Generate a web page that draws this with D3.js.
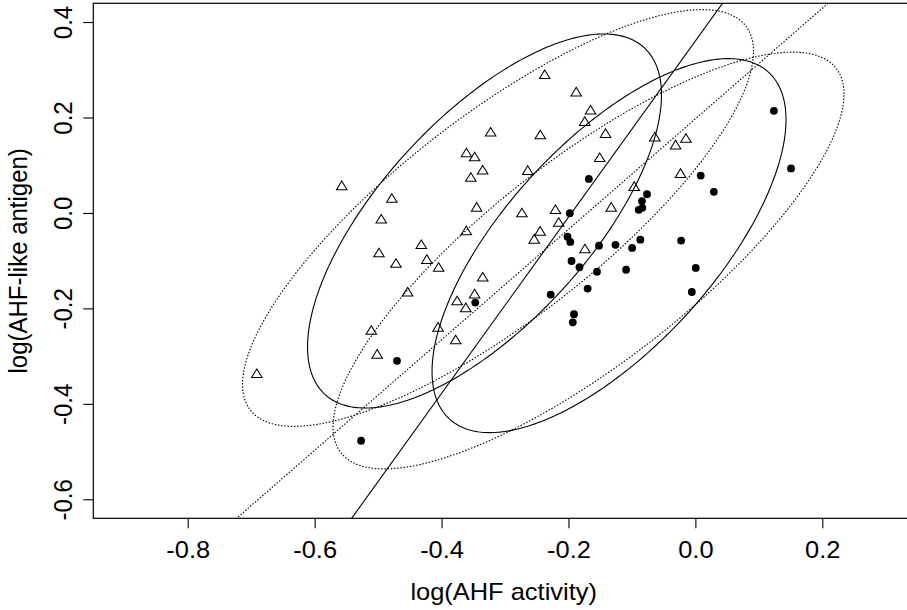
<!DOCTYPE html>
<html>
<head>
<meta charset="utf-8">
<script src="https://cdn.jsdelivr.net/npm/d3@7"></script>
<style>
  html, body { margin: 0; padding: 0; background: #fff; }
  svg { display: block; }
  text { font-family: "Liberation Sans", Arial, Helvetica, sans-serif; fill: #000; }
</style>
</head>
<body>
<svg id="chart" width="907" height="610"></svg>
<script>
// Hemophilia data: log(AHF activity) and log(AHF-like antigen)
const normalActivity = [-0.0056, -0.1698, -0.3469, -0.0894, -0.1679, -0.0836, -0.1979, -0.0762, -0.1913, -0.1092,
  -0.5268, -0.0842, -0.0225, 0.0084, -0.1827, 0.1237, -0.4702, -0.1519, 0.0006, -0.2015,
  -0.1932, 0.1507, -0.1259, -0.1551, -0.1952, 0.0291, -0.2280, -0.0997, -0.1972, -0.0867];
const normalAntigen = [-0.1657, -0.1585, -0.1879, 0.0064, 0.0713, 0.0106, -0.0005, 0.0392, -0.2123, -0.1190,
  -0.4773, 0.0248, -0.0580, 0.0782, -0.1138, 0.2140, -0.3099, -0.0686, -0.1153, -0.0498,
  -0.2293, 0.0933, -0.0669, -0.1232, -0.1007, 0.0442, -0.1710, -0.0733, -0.0607, -0.0560];
const carrierActivity = [-0.3478, -0.3618, -0.4986, -0.5015, -0.1326, -0.6911, -0.3608, -0.4535, -0.3479, -0.3539,
  -0.4719, -0.3610, -0.3226, -0.4319, -0.2734, -0.5573, -0.3755, -0.4950, -0.5107, -0.1652,
  -0.2447, -0.4232, -0.2375, -0.2205, -0.2154, -0.3447, -0.2540, -0.3778, -0.4046, -0.0639,
  -0.3351, -0.0149, -0.0312, -0.1740, -0.1416, -0.1508, -0.0964, -0.2642, -0.0234, -0.3352,
  -0.1878, -0.1744, -0.4055, -0.2444, -0.4784];
const carrierAntigen = [0.1151, -0.2008, -0.0860, -0.2984, 0.0097, -0.3390, 0.1237, -0.1682, -0.1721, 0.0722,
  -0.1079, -0.0399, 0.1670, -0.0687, -0.0020, 0.0548, -0.1865, -0.0153, -0.2483, 0.2132,
  -0.0407, -0.0998, 0.2876, 0.0046, -0.0219, 0.0097, -0.0573, -0.2682, -0.1162, 0.1569,
  -0.1368, 0.1539, 0.1400, -0.0776, 0.1642, 0.1137, 0.0531, 0.0867, 0.0804, 0.0875,
  0.2510, 0.1892, -0.2418, 0.1614, 0.0282];

// Group centres and pooled covariance (classical: dotted, robust: solid)
const classicalCenters = [[-0.3110, -0.0106], [-0.1684, -0.0997]];
const classicalCov = [[0.021970, 0.019034], [0.019034, 0.025837]];
const robustCenters = [[-0.3323, -0.0169], [-0.1361, -0.0685]];
const robustCov = [[0.010543, 0.009980], [0.009980, 0.020807]];
const chiSqQuantile = 7.3778; // qchisq(0.975, 2)

// Separating lines: [intercept, slope]
const robustLine = [0.3603, 1.8463];
const classicalLine = [0.1972, 1.1578];

const xTicks = [-0.8, -0.6, -0.4, -0.2, 0.0, 0.2];
const yTicks = [-0.6, -0.4, -0.2, 0.0, 0.2, 0.4];
const xTitle = "log(AHF activity)";
const yTitle = "log(AHF-like antigen)";

const xlim = [-0.9488, 0.3445];
const ylim = [-0.6398, 0.4392];
const box = { left: 93.3, right: 914, top: 3.3, bottom: 518.3 };
const stretch = 1.06;
const fontSize = 24;
const dotted = "1.5,1.7";

const svg = d3.select("#chart");
const x = d3.scaleLinear().domain(xlim).range([box.left, box.right]);
const y = d3.scaleLinear().domain(ylim).range([box.bottom, box.top]);

svg.append("defs").append("clipPath").attr("id", "plotclip")
  .append("rect")
  .attr("x", box.left).attr("y", box.top)
  .attr("width", box.right - box.left).attr("height", box.bottom - box.top);

const plot = svg.append("g").attr("clip-path", "url(#plotclip)");

// Tolerance ellipses
function ellipsePoints(center, cov, q) {
  const l11 = Math.sqrt(cov[0][0]);
  const l21 = cov[0][1] / l11;
  const l22 = Math.sqrt(cov[1][1] - l21 * l21);
  const r = Math.sqrt(q);
  return d3.range(0, 361).map(i => {
    const t = i * Math.PI / 180;
    const u = r * Math.cos(t), v = r * Math.sin(t);
    return [center[0] + l11 * u, center[1] + l21 * u + l22 * v];
  });
}
const line = d3.line().x(d => x(d[0])).y(d => y(d[1]));

classicalCenters.forEach(c => {
  plot.append("path").attr("d", line(ellipsePoints(c, classicalCov, chiSqQuantile)) + "Z")
    .attr("fill", "none").attr("stroke", "#000").attr("stroke-width", 1.1)
    .attr("stroke-dasharray", dotted);
});
robustCenters.forEach(c => {
  plot.append("path").attr("d", line(ellipsePoints(c, robustCov, chiSqQuantile)) + "Z")
    .attr("fill", "none").attr("stroke", "#000").attr("stroke-width", 1.1);
});

// Straight lines across the plot region
function abline(coef) {
  return [[xlim[0], coef[0] + coef[1] * xlim[0]], [xlim[1], coef[0] + coef[1] * xlim[1]]];
}
plot.append("path").attr("d", line(abline(robustLine)))
  .attr("fill", "none").attr("stroke", "#000").attr("stroke-width", 1.1);
plot.append("path").attr("d", line(abline(classicalLine)))
  .attr("fill", "none").attr("stroke", "#000").attr("stroke-width", 1.1)
  .attr("stroke-dasharray", dotted);

// Points
const normals = normalActivity.map((v, i) => [v, normalAntigen[i]]);
const carriers = carrierActivity.map((v, i) => [v, carrierAntigen[i]]);

plot.selectAll("circle.normal").data(normals).enter().append("circle")
  .attr("class", "normal")
  .attr("cx", d => x(d[0])).attr("cy", d => y(d[1]))
  .attr("r", 3.9).attr("fill", "#000");

const xc = 3.7;
const triPath = `M0,${-1.5551 * xc}L${1.3468 * xc},${0.7776 * xc}L${-1.3468 * xc},${0.7776 * xc}Z`;
plot.selectAll("path.carrier").data(carriers).enter().append("path")
  .attr("class", "carrier")
  .attr("transform", d => `translate(${x(d[0])},${y(d[1])}) scale(${stretch},1)`)
  .attr("d", triPath)
  .attr("fill", "none").attr("stroke", "#000").attr("stroke-width", 1);

// Frame
svg.append("rect")
  .attr("x", box.left).attr("y", box.top)
  .attr("width", box.right - box.left).attr("height", box.bottom - box.top)
  .attr("fill", "none").attr("stroke", "#000").attr("stroke-width", 1.2);

// Axes
const fmt = d => d.toFixed(1);
const xAxis = svg.append("g").attr("transform", `translate(0,${box.bottom})`)
  .call(d3.axisBottom(x).tickValues(xTicks).tickSize(10).tickFormat(fmt));
xAxis.select(".domain").remove();
xAxis.selectAll(".tick line").attr("stroke", "#000").attr("stroke-width", 1.1);
xAxis.selectAll(".tick text")
  .attr("y", null).attr("dy", null)
  .attr("transform", `translate(0,${558.3 - box.bottom}) scale(${stretch},1)`)
  .attr("text-anchor", "middle")
  .style("font-size", fontSize + "px").attr("font-family", null).attr("font-size", null);

const yAxis = svg.append("g").attr("transform", `translate(${box.left},0)`)
  .call(d3.axisLeft(y).tickValues(yTicks).tickSize(10).tickFormat(fmt));
yAxis.select(".domain").remove();
yAxis.selectAll(".tick line").attr("stroke", "#000").attr("stroke-width", 1.1);
yAxis.selectAll(".tick text")
  .attr("x", null).attr("dy", null)
  .attr("transform", `translate(${71.7 - box.left},0) scale(${stretch},1) rotate(-90)`)
  .attr("text-anchor", "middle")
  .style("font-size", fontSize + "px").attr("font-family", null).attr("font-size", null);

// Titles
svg.append("text")
  .attr("transform", `translate(${(box.left + box.right) / 2},600) scale(${stretch},1)`)
  .attr("text-anchor", "middle").style("font-size", fontSize + "px")
  .text(xTitle);
svg.append("text")
  .attr("transform", `translate(26.5,${(box.top + box.bottom) / 2}) scale(${stretch},1) rotate(-90)`)
  .attr("text-anchor", "middle").style("font-size", fontSize + "px")
  .text(yTitle);
</script>
</body>
</html>
